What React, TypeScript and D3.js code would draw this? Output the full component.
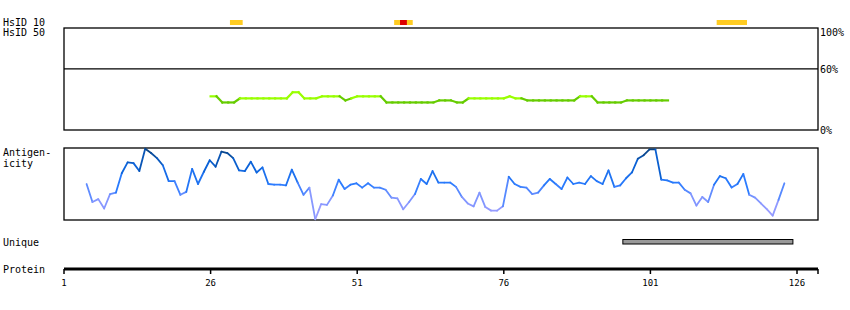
import React from "react";
import * as d3 from "d3";

// ---- data ----
const tickResidues = [1, 26, 51, 76, 101, 126];
const percentTicks = ["100%", "60%", "0%"];
const percentValues = [100, 60, 0];

// HsID 10 hits: residue ranges and level
const hsid10Start = [30, 58, 59, 113];
const hsid10End = [31, 60, 59, 117];
const hsid10Level = ["low", "low", "high", "low"];

// HsID 50 similarity (%) per residue, starting at residue 26
const hsid50Start = 26;
const hsid50Values = [
  33, 33, 27, 27, 27, 31, 31, 31, 31, 31, 31, 31, 31, 31, 37, 37, 31, 31, 31, 33,
  33, 33, 33, 29, 31, 33, 33, 33, 33, 33, 27, 27, 27, 27, 27, 27, 27, 27, 27, 29,
  29, 29, 27, 27, 31, 31, 31, 31, 31, 31, 31, 33, 31, 31, 29, 29, 29, 29, 29, 29,
  29, 29, 29, 33, 33, 33, 27, 27, 27, 27, 27, 29, 29, 29, 29, 29, 29, 29, 29,
];

// Antigenicity score (0..1) per residue, starting at residue 5
const antiStart = 5;
const antiValues = [
  0.50, 0.25, 0.29, 0.16, 0.36, 0.38, 0.65, 0.80, 0.79, 0.68,
  0.99, 0.93, 0.86, 0.76, 0.54, 0.54, 0.35, 0.39, 0.71, 0.50,
  0.67, 0.83, 0.74, 0.95, 0.93, 0.86, 0.69, 0.68, 0.81, 0.66,
  0.73, 0.50, 0.49, 0.49, 0.48, 0.70, 0.52, 0.35, 0.45, 0.01,
  0.22, 0.21, 0.34, 0.56, 0.43, 0.49, 0.51, 0.45, 0.51, 0.45,
  0.45, 0.42, 0.31, 0.30, 0.15, 0.25, 0.36, 0.57, 0.50, 0.68,
  0.52, 0.52, 0.52, 0.46, 0.32, 0.23, 0.19, 0.38, 0.18, 0.13,
  0.13, 0.19, 0.60, 0.50, 0.46, 0.45, 0.36, 0.38, 0.48, 0.57,
  0.50, 0.43, 0.59, 0.50, 0.52, 0.50, 0.61, 0.54, 0.50, 0.69,
  0.46, 0.48, 0.58, 0.66, 0.85, 0.90, 0.98, 0.98, 0.56, 0.55,
  0.52, 0.52, 0.42, 0.37, 0.20, 0.32, 0.25, 0.49, 0.61, 0.58,
  0.45, 0.50, 0.64, 0.35, 0.31, 0.23, 0.15, 0.06, 0.28, 0.51,
];

// Unique region (residues)
const uniqueStart = 97;
const uniqueEnd = 125;

const FONT = "'DejaVu Sans Mono', monospace";

export default function App() {
  const W = 850;
  const H = 310;
  const left = 64;
  const right = 818;

  const x = d3.scaleLinear().domain([1, 129.58]).range([left, right]);

  const hsTop = 28;
  const hsBottom = 130;
  const yPct = d3.scaleLinear().domain([0, 100]).range([hsBottom, hsTop]);

  const agTop = 148;
  const agBottom = 220;
  const yAg = d3.scaleLinear().domain([0, 1]).range([agBottom, agTop]);

  const blue = d3
    .scaleLinear<string>()
    .domain([0, 0.3, 0.5, 0.75, 1])
    .range(["#a8a0ff", "#7e95ff", "#2a7bff", "#0a62d8", "#0a3f78"])
    .clamp(true);

  const green = (v: number) => (v >= 30 ? "#99ff00" : "#66cc00");

  const hs50 = hsid50Values.map((v, i) => ({ r: hsid50Start + i, v }));
  const ag = antiValues.map((v, i) => ({ r: antiStart + i - 0.15, v }));

  const segs = <T extends { r: number; v: number }>(pts: T[]) =>
    pts.slice(1).map((p, i) => [pts[i], p] as [T, T]);

  const line = d3.line<[number, number]>();

  return (
    <svg
      width={W}
      height={H}
      style={{ position: "absolute", left: 0, top: 0, background: "#fff" }}
      fontFamily={FONT}
    >
      {/* left labels */}
      <g fontSize={10} fill="#000">
        <text x={3} y={26}>HsID 10</text>
        <text x={3} y={36}>HsID 50</text>
        <text x={3} y={156}>Antigen-</text>
        <text x={3} y={167}>icity</text>
        <text x={3} y={246}>Unique</text>
        <text x={3} y={273}>Protein</text>
      </g>

      {/* HsID 10 bars */}
      {hsid10Start.map((s, i) => (
        <rect
          key={"h10" + i}
          x={x(s - 0.7)}
          y={20}
          width={x(hsid10End[i] + 0.3) - x(s - 0.7) + 1}
          height={5}
          fill={hsid10Level[i] === "high" ? "#dd0000" : "#ffcc22"}
        />
      ))}

      {/* HsID 50 box */}
      <rect x={left} y={hsTop} width={right - left} height={hsBottom - hsTop} fill="none" stroke="#000" strokeWidth={1.3} />
      <line x1={left} x2={right} y1={yPct(60)} y2={yPct(60)} stroke="#000" strokeWidth={1.3} />
      <g fontSize={10}>
        {percentValues.map((p, i) => (
          <text key={"pt" + i} x={820} y={yPct(p) + (p === 100 ? 8 : 4)}>
            {percentTicks[i]}
          </text>
        ))}
      </g>
      {segs(hs50).map(([a, b], i) => (
        <path
          key={"g" + i}
          d={line([[x(a.r), yPct(a.v)], [x(b.r), yPct(b.v)]]) || ""}
          stroke={green(Math.min(a.v, b.v))}
          strokeWidth={2.2}
          fill="none"
          strokeLinecap="square"
        />
      ))}

      {/* Antigenicity box */}
      <rect x={left} y={agTop} width={right - left} height={agBottom - agTop} fill="none" stroke="#000" strokeWidth={1.3} />
      {segs(ag).map(([a, b], i) => (
        <path
          key={"a" + i}
          d={line([[x(a.r), yAg(a.v)], [x(b.r), yAg(b.v)]]) || ""}
          stroke={blue((a.v + b.v) / 2)}
          strokeWidth={1.8}
          fill="none"
          strokeLinecap="round"
        />
      ))}

      {/* Unique */}
      <rect
        x={x(uniqueStart - 0.7)}
        y={239.5}
        width={x(uniqueEnd + 0.3) - x(uniqueStart - 0.7)}
        height={4.5}
        fill="#999"
        stroke="#000"
        strokeWidth={1}
      />

      {/* Protein axis */}
      <rect x={left} y={267.5} width={right - left} height={3} fill="#000" />
      {tickResidues.map((r) => (
        <g key={"t" + r}>
          <line x1={x(r)} x2={x(r)} y1={269} y2={274} stroke="#000" strokeWidth={1.5} />
          <text x={x(r)} y={286} fontSize={9} textAnchor="middle">
            {r}
          </text>
        </g>
      ))}
      <line x1={right} x2={right} y1={269} y2={274} stroke="#000" strokeWidth={1.5} />
    </svg>
  );
}
